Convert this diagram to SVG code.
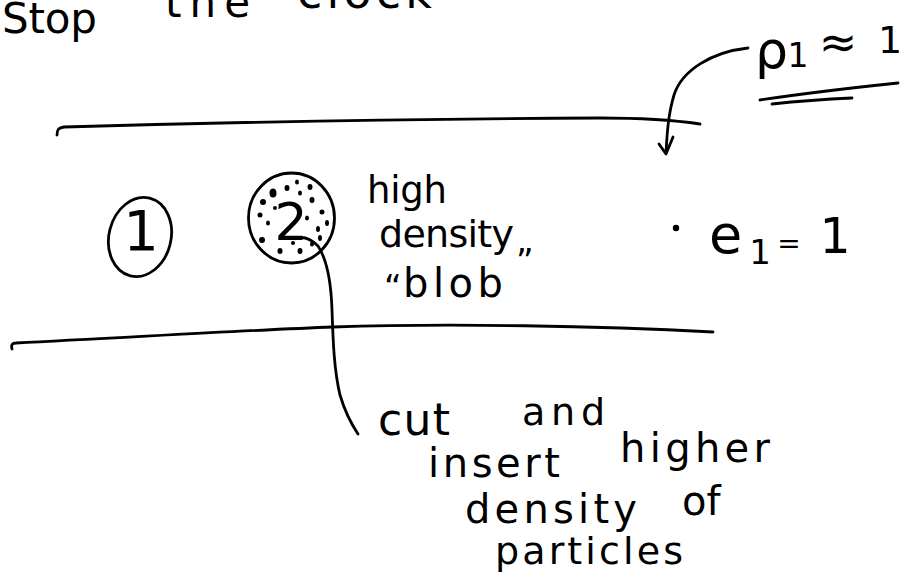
<svg xmlns="http://www.w3.org/2000/svg" width="910" height="586" viewBox="0 0 910 586">
<style>
.ink{fill:none;stroke:#000;stroke-width:2.8;stroke-linecap:round;stroke-linejoin:round}
.t{font-family:"DejaVu Sans",sans-serif;fill:#000}
.dot{fill:#000}
</style>
<rect width="910" height="586" fill="#fff"/>
<g id="title">
<text class="t" x="2" y="33" font-size="42" textLength="95" lengthAdjust="spacing">Stop</text>
<text class="t" x="165" y="17" font-size="42" textLength="85" lengthAdjust="spacing">the</text>
<text class="t" x="297" y="8" font-size="46" textLength="135" lengthAdjust="spacing">clock</text>
</g>
<g id="channel">
<path class="ink" d="M57,135 C57,130 58,128 64,127 C200,123 400,119 600,118 C650,118 680,121 700,124"/>
<path class="ink" d="M12,349 C11,345 12,343 16,343 C120,338 250,330 333,327 C450,323 600,326 713,332"/>
</g>
<g id="rho-label">
<text class="t" x="755" y="68" font-size="52">ρ</text>
<text class="t" x="798" y="67" font-size="33" text-anchor="middle">1</text>
<text class="t" x="838" y="58" font-size="46" text-anchor="middle">≈</text>
<text class="t" x="890" y="53" font-size="38" text-anchor="middle">1</text>
<path class="ink" d="M760,100 C800,94 850,88 898,83"/>
<path class="ink" d="M772,104 C800,101 830,99 852,98"/>
</g>
<g id="region1">
<ellipse class="ink" cx="140" cy="237" rx="31" ry="40" transform="rotate(14 140 237)"/>
<text class="t" x="141" y="250" font-size="56" text-anchor="middle">1</text>
</g>
<g id="blob">
<ellipse class="ink" cx="291.5" cy="218" rx="43" ry="45"/>
<text class="t" x="291" y="240" font-size="52" text-anchor="middle">2</text>
<g class="dot">
<ellipse cx="273" cy="193" rx="3.5" ry="4.5"/>
<ellipse cx="287" cy="188" rx="2.5" ry="3"/>
<ellipse cx="297" cy="182" rx="2" ry="2.5"/>
<ellipse cx="310" cy="187" rx="2.5" ry="3"/>
<ellipse cx="263" cy="202" rx="3" ry="3"/>
<ellipse cx="312" cy="200" rx="2.5" ry="3"/>
<ellipse cx="300" cy="193" rx="2" ry="2.5"/>
<ellipse cx="322" cy="212" rx="2.5" ry="2.5"/>
<ellipse cx="260" cy="215" rx="2.5" ry="2.5"/>
<ellipse cx="268" cy="223" rx="2" ry="2.5"/>
<ellipse cx="327" cy="223" rx="2" ry="3"/>
<ellipse cx="318" cy="229" rx="2" ry="3"/>
<ellipse cx="307" cy="218" rx="2" ry="2.5"/>
<ellipse cx="262" cy="240" rx="3" ry="3"/>
<ellipse cx="280" cy="251" rx="2.5" ry="3"/>
<ellipse cx="300" cy="251" rx="2.5" ry="3"/>
<ellipse cx="293" cy="243" rx="2" ry="2"/>
<ellipse cx="320" cy="238" rx="2" ry="3"/>
<ellipse cx="275" cy="208" rx="2" ry="2"/>
<ellipse cx="312" cy="244" rx="2" ry="2.5"/>
</g>
</g>
<g id="blob-label">
<text class="t" x="367" y="203" font-size="37" textLength="80" lengthAdjust="spacing">high</text>
<text class="t" x="379" y="247" font-size="38" textLength="135" lengthAdjust="spacing">density</text>
<text class="t" x="516" y="273" font-size="34">”</text>
<text class="t" x="384" y="299" font-size="34">“</text>
<text class="t" x="403" y="297" font-size="40" textLength="100" lengthAdjust="spacing">blob</text>
</g>
<g id="e-label">
<circle class="dot" cx="676" cy="228" r="3.2"/>
<text class="t" x="709" y="253" font-size="54">e</text>
<text class="t" x="760" y="264" font-size="34" text-anchor="middle">1</text>
<text class="t" x="789" y="253" font-size="28" text-anchor="middle">=</text>
<text class="t" x="835" y="253" font-size="49" text-anchor="middle">1</text>
</g>
<g id="note">
<text class="t" x="378" y="435" font-size="44" textLength="72" lengthAdjust="spacing">cut</text>
<text class="t" x="522" y="425" font-size="38" textLength="83" lengthAdjust="spacing">and</text>
<text class="t" x="428" y="477" font-size="40" textLength="132" lengthAdjust="spacing">insert</text>
<text class="t" x="620" y="462" font-size="40" textLength="150" lengthAdjust="spacing">higher</text>
<text class="t" x="465" y="523" font-size="40" textLength="172" lengthAdjust="spacing">density</text>
<text class="t" x="682" y="515" font-size="40">of</text>
<text class="t" x="495" y="564" font-size="38" textLength="188" lengthAdjust="spacing">particles</text>
</g>
<g id="connectors">
<path class="ink" d="M748,48 C712,52 682,70 674,95 C668,115 667,135 666,153"/>
<path class="ink" d="M659,144 L666,154 L673,137"/>
<path class="ink" d="M297,238 C305,236 312,240 318,246 C326,258 331,280 332,310 C333,340 334,370 340,395 C345,412 352,425 358,434"/>
</g>
</svg>
